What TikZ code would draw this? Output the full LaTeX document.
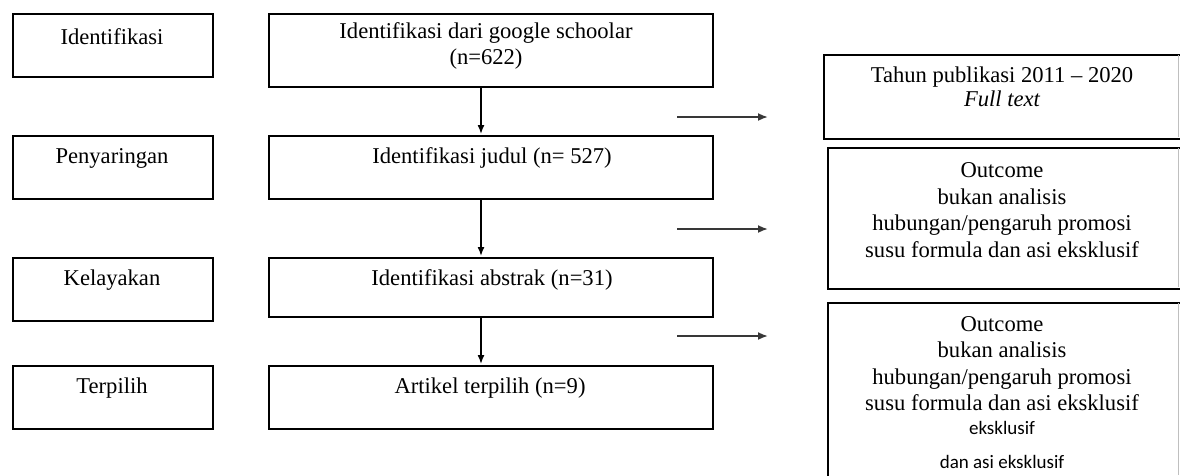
\documentclass[tikz,border=0pt]{standalone}
\usepackage{fontspec}
\setmainfont{Liberation Serif}
\newfontfamily\carlito{Carlito}
\usetikzlibrary{arrows.meta,calc}
\begin{document}
\begin{tikzpicture}[x=1pt,y=-1pt,
  box/.style={draw=black, line width=1.6pt, inner sep=0pt, anchor=north west},
  lbl/.style={font=\fontsize{22.6}{26}\selectfont, align=center, inner sep=0pt},
  sans/.style={font=\carlito\fontsize{19}{22}\selectfont, inner sep=0pt},
  flow/.style={line width=1.5pt, draw=black, -{Latex[length=9pt,width=7pt]}},
  side/.style={line width=1.8pt, draw=black!78, -{Latex[length=10pt,width=8pt]}},
]
\clip (0,0) rectangle (1180,475);
\fill[white] (0,0) rectangle (1180,475);

% left stage boxes
\node[box, minimum width=200pt, minimum height=63pt] (l1) at (12,13) {};
\node[box, minimum width=200pt, minimum height=63pt] (l2) at (12,135) {};
\node[box, minimum width=200pt, minimum height=63pt] (l3) at (12,257) {};
\node[box, minimum width=200pt, minimum height=63pt] (l4) at (12,365) {};
\node[lbl] (tl1) at (112,37) {Identifikasi};
\node[lbl] (tl2) at (112,158) {Penyaringan};
\node[lbl] (tl3) at (112,280) {Kelayakan};
\node[lbl] (tl4) at (112,388) {Terpilih};

% middle boxes
\node[box, minimum width=444pt, minimum height=73pt] (m1) at (268,13) {};
\node[box, minimum width=444pt, minimum height=63pt] (m2) at (268,135) {};
\node[box, minimum width=444pt, minimum height=59pt] (m3) at (268,257) {};
\node[box, minimum width=444pt, minimum height=63pt] (m4) at (268,365) {};
\node[lbl] (tm1) at (486,46) {Identifikasi dari google schoolar\\(n=622)};
\node[lbl] (tm2) at (492,158) {Identifikasi judul (n= 527)};
\node[lbl] (tm3) at (492,280) {Identifikasi abstrak (n=31)};
\node[lbl] (tm4) at (490,388) {Artikel terpilih (n=9)};

% vertical flow arrows
\coordinate (a1) at (481,86);  \coordinate (b1) at (481,134);
\coordinate (a2) at (481,198); \coordinate (b2) at (481,256);
\coordinate (a3) at (481,316); \coordinate (b3) at (481,364);
\draw[flow] (a1) -- (b1);
\draw[flow] (a2) -- (b2);
\draw[flow] (a3) -- (b3);

% right exclusion boxes
\node[box, minimum width=370pt, minimum height=84pt] (r1) at (823,54) {};
\node[box, minimum width=366pt, minimum height=141pt] (r2) at (827,147) {};
\node[box, minimum width=366pt, minimum height=200pt] (r3) at (827,302) {};
\draw[black!25, line width=1pt] (1178.5,55) -- (1178.5,137);
\draw[black!25, line width=1pt] (1178.5,148) -- (1178.5,287);
\draw[black!25, line width=1pt] (1178.5,303) -- (1178.5,475);

\node[lbl, font=\fontsize{22.6}{24}\selectfont] (tr1) at (1002,87) {Tahun publikasi 2011 – 2020\\\itshape Full text};
\node[lbl, font=\fontsize{22.6}{26.5}\selectfont] (tr2) at (1002,210) {Outcome\\bukan analisis\\hubungan/pengaruh promosi\\susu formula dan asi eksklusif};
\node[lbl, font=\fontsize{22.6}{26.3}\selectfont] (tr3) at (1002,363.5) {Outcome\\bukan analisis\\hubungan/pengaruh promosi\\susu formula dan asi eksklusif};
\node[sans] (tr3b) at (1002,428) {eksklusif};
\node[sans] (tr3c) at (1002,462) {dan asi eksklusif};

% horizontal exclusion arrows
\coordinate (h1a) at (677,117); \coordinate (h1b) at (768,117);
\coordinate (h2a) at (677,229); \coordinate (h2b) at (768,229);
\coordinate (h3a) at (677,336); \coordinate (h3b) at (768,336);
\draw[side] (h1a) -- (h1b);
\draw[side] (h2a) -- (h2b);
\draw[side] (h3a) -- (h3b);
\end{tikzpicture}
\end{document}
